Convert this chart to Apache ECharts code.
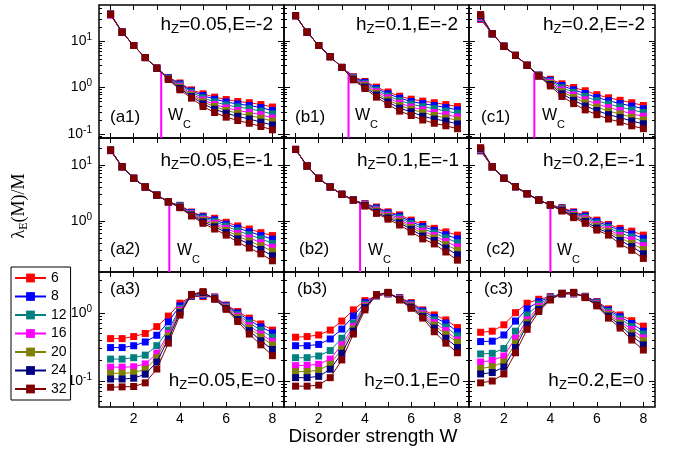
<!DOCTYPE html>
<html><head><meta charset="utf-8">
<script src="https://cdn.jsdelivr.net/npm/echarts@6/dist/echarts.min.js"></script>
<style>html,body{margin:0;padding:0;background:#fff}#c{width:683px;height:454px}</style>
</head><body><div id="c"></div>
<script>
// ---------------- data ----------------
const W = [1,1.5,2,2.5,3,3.5,4,4.5,5,5.5,6,6.5,7,7.5,8];
const sizes = ['6','8','12','16','20','24','32'];
const colors = ['#ff0000','#0000ff','#008080','#ff00ff','#808000','#000080','#800000'];
const xTickVals = [1,2,3,4,5,6,7,8];
const xLabelVals = [2,4,6,8];

// rows of each panel: series 6,8,12,16,20,24,32
const a1 = [
 [38,15.5,8.0,4.4,2.6,1.65,1.25,0.89,0.73,0.62,0.55,0.50,0.47,0.43,0.38],
 [37,15.5,8.0,4.4,2.6,1.63,1.19,0.84,0.67,0.56,0.49,0.44,0.41,0.37,0.32],
 [37,15.5,8.0,4.4,2.6,1.60,1.13,0.79,0.60,0.49,0.42,0.38,0.35,0.31,0.27],
 [36,15.5,8.0,4.4,2.6,1.57,1.06,0.73,0.54,0.43,0.365,0.32,0.29,0.26,0.22],
 [38,15.5,8.0,4.4,2.6,1.55,1.01,0.69,0.49,0.39,0.32,0.28,0.25,0.22,0.19],
 [38,15.5,8.0,4.4,2.6,1.52,0.955,0.64,0.445,0.34,0.28,0.24,0.21,0.18,0.156],
 [37,15.5,8.0,4.4,2.6,1.49,0.89,0.59,0.39,0.29,0.23,0.195,0.17,0.145,0.123]];
const b1 = [
 [35,15.5,8.0,4.6,2.7,1.70,1.35,1.02,0.80,0.65,0.56,0.51,0.47,0.43,0.39],
 [35,15.5,8.0,4.6,2.7,1.66,1.29,0.95,0.73,0.59,0.50,0.45,0.41,0.37,0.33],
 [35,15.5,8.0,4.6,2.7,1.62,1.21,0.88,0.66,0.52,0.44,0.385,0.35,0.31,0.28],
 [35,15.5,8.0,4.6,2.7,1.58,1.15,0.81,0.60,0.46,0.38,0.33,0.29,0.26,0.23],
 [35,15.5,8.0,4.6,2.7,1.55,1.09,0.75,0.54,0.41,0.34,0.29,0.25,0.22,0.20],
 [35,15.5,8.0,4.6,2.7,1.51,1.02,0.69,0.49,0.36,0.30,0.24,0.21,0.19,0.164],
 [35,15.5,8.0,4.6,2.7,1.46,0.95,0.62,0.43,0.31,0.25,0.20,0.17,0.15,0.13]];
const c1 = [
 [29,14.3,7.7,4.9,3.0,1.85,1.50,1.20,1.00,0.85,0.70,0.60,0.53,0.47,0.41],
 [30,14.3,7.7,4.9,3.0,1.84,1.43,1.10,0.89,0.74,0.61,0.52,0.45,0.40,0.35],
 [31,14.3,7.7,4.9,3.0,1.83,1.36,0.99,0.79,0.64,0.52,0.44,0.38,0.33,0.29],
 [32,14.3,7.7,4.9,3.0,1.81,1.29,0.89,0.69,0.54,0.44,0.37,0.32,0.27,0.24],
 [34,14.3,7.7,4.9,3.0,1.80,1.22,0.81,0.61,0.47,0.38,0.31,0.27,0.23,0.20],
 [35,14.3,7.7,4.9,3.0,1.77,1.16,0.73,0.53,0.40,0.32,0.26,0.225,0.19,0.166],
 [37,14.3,7.7,4.9,3.0,1.75,1.08,0.64,0.45,0.33,0.26,0.21,0.18,0.15,0.13]];
const a2 = [
 [18.0,9.3,5.8,4.05,2.9,2.2,1.91,1.45,1.23,1.12,0.95,0.82,0.72,0.62,0.55],
 [18.5,9.3,5.8,4.05,2.9,2.2,1.88,1.42,1.19,1.05,0.88,0.75,0.645,0.55,0.475],
 [18.5,9.3,5.8,4.05,2.9,2.2,1.86,1.38,1.13,0.98,0.81,0.67,0.57,0.48,0.40],
 [18.5,9.3,5.8,4.05,2.9,2.2,1.82,1.35,1.07,0.91,0.74,0.60,0.50,0.41,0.34],
 [18.8,9.3,5.8,4.05,2.9,2.2,1.80,1.31,1.03,0.85,0.68,0.54,0.44,0.36,0.29],
 [18.5,9.3,5.8,4.05,2.9,2.2,1.77,1.28,0.97,0.79,0.625,0.48,0.39,0.31,0.24],
 [18.5,9.3,5.8,4.05,2.9,2.2,1.73,1.23,0.91,0.72,0.56,0.42,0.33,0.26,0.195]];
const b2 = [
 [19,9.6,5.8,4.05,3.0,2.37,2.04,1.78,1.46,1.29,1.04,0.87,0.74,0.64,0.56],
 [19,9.6,5.8,4.05,3.0,2.37,2.01,1.71,1.40,1.22,0.97,0.80,0.68,0.57,0.48],
 [19,9.6,5.8,4.05,3.0,2.37,1.98,1.64,1.33,1.14,0.90,0.73,0.61,0.50,0.41],
 [19,9.6,5.8,4.05,3.0,2.37,1.96,1.57,1.27,1.06,0.83,0.66,0.55,0.43,0.345],
 [19,9.6,5.8,4.05,3.0,2.37,1.93,1.51,1.21,0.995,0.77,0.60,0.50,0.38,0.30],
 [19,9.6,5.8,4.05,3.0,2.37,1.89,1.44,1.14,0.93,0.71,0.54,0.45,0.33,0.25],
 [19,9.6,5.8,4.05,3.0,2.37,1.85,1.37,1.08,0.85,0.64,0.48,0.39,0.28,0.20]];
const c2 = [
 [17.8,9.3,5.8,4.1,3.07,2.37,1.93,1.74,1.46,1.29,1.04,0.87,0.74,0.66,0.56],
 [18.2,9.3,5.8,4.1,3.07,2.37,1.93,1.70,1.41,1.23,0.98,0.82,0.68,0.59,0.49],
 [18.6,9.3,5.8,4.1,3.07,2.37,1.93,1.67,1.36,1.16,0.92,0.76,0.61,0.52,0.42],
 [19.0,9.3,5.8,4.1,3.07,2.37,1.93,1.62,1.31,1.10,0.86,0.71,0.55,0.46,0.36],
 [19.4,9.3,5.8,4.1,3.07,2.37,1.93,1.59,1.26,1.04,0.81,0.66,0.50,0.40,0.31],
 [19.8,9.3,5.8,4.1,3.07,2.37,1.93,1.56,1.21,0.98,0.75,0.61,0.45,0.35,0.26],
 [20.4,9.3,5.8,4.1,3.07,2.37,1.93,1.51,1.15,0.91,0.69,0.56,0.39,0.30,0.215]];
const a3 = [
 [0.42,0.42,0.45,0.50,0.63,0.90,1.39,1.75,1.74,1.72,1.31,1.05,0.84,0.69,0.56],
 [0.31,0.31,0.33,0.375,0.47,0.74,1.27,1.77,1.80,1.70,1.28,1.00,0.78,0.625,0.51],
 [0.21,0.21,0.22,0.24,0.33,0.56,1.17,1.79,1.86,1.68,1.25,0.95,0.71,0.56,0.44],
 [0.16,0.16,0.162,0.178,0.255,0.50,1.11,1.81,1.91,1.66,1.22,0.90,0.65,0.49,0.38],
 [0.13,0.13,0.133,0.149,0.22,0.46,1.05,1.83,1.96,1.64,1.19,0.85,0.60,0.445,0.34],
 [0.107,0.107,0.11,0.126,0.19,0.415,1.01,1.85,2.00,1.62,1.16,0.80,0.55,0.39,0.29],
 [0.081,0.082,0.083,0.094,0.15,0.36,0.93,1.87,2.06,1.59,1.13,0.75,0.49,0.34,0.236]];
const b3 = [
 [0.44,0.45,0.475,0.56,0.76,1.11,1.52,1.78,1.90,1.68,1.42,1.11,0.935,0.79,0.61],
 [0.33,0.33,0.345,0.415,0.58,0.90,1.42,1.79,1.92,1.66,1.38,1.07,0.86,0.71,0.53],
 [0.22,0.22,0.233,0.28,0.425,0.70,1.34,1.80,1.94,1.64,1.34,1.02,0.79,0.62,0.46],
 [0.168,0.17,0.176,0.21,0.34,0.63,1.28,1.81,1.96,1.62,1.30,0.97,0.72,0.55,0.40],
 [0.137,0.138,0.144,0.176,0.295,0.58,1.24,1.83,1.97,1.60,1.26,0.93,0.66,0.485,0.37],
 [0.112,0.112,0.117,0.149,0.255,0.54,1.20,1.84,1.99,1.58,1.22,0.89,0.60,0.425,0.31],
 [0.084,0.084,0.087,0.112,0.204,0.49,1.11,1.86,2.01,1.55,1.17,0.84,0.53,0.36,0.26]];
const c3 = [
 [0.52,0.54,0.67,1.01,1.39,1.59,1.74,1.90,1.90,1.76,1.47,1.15,0.935,0.77,0.64],
 [0.38,0.385,0.475,0.76,1.15,1.47,1.71,1.91,1.92,1.75,1.44,1.10,0.88,0.70,0.54],
 [0.25,0.255,0.30,0.54,0.935,1.34,1.68,1.92,1.94,1.73,1.41,1.05,0.82,0.63,0.49],
 [0.19,0.20,0.233,0.425,0.79,1.24,1.65,1.93,1.96,1.72,1.37,0.99,0.76,0.57,0.43],
 [0.153,0.162,0.19,0.36,0.72,1.17,1.62,1.93,1.98,1.71,1.34,0.95,0.71,0.51,0.39],
 [0.127,0.133,0.16,0.31,0.67,1.13,1.59,1.94,2.00,1.70,1.31,0.90,0.66,0.46,0.34],
 [0.094,0.10,0.127,0.26,0.575,1.05,1.55,1.95,2.01,1.68,1.27,0.84,0.60,0.40,0.285]];

// critical disorder lines (rows 1 and 2)
const wcW   = [[3.19,3.29,3.31],[3.54,3.79,4.0]];
const wcTop = [[2.2,2.2,2.07],[2.12,2.04,1.93]];
const hzVals = ['0.05','0.1','0.2'];
const eVals = ['-2','-1','0'];
const yMin = [0.082,0.123,0.0415];
const yMax = [59.4,30.4,4.0];

// ---------------- layout ----------------
const FONT = '"Liberation Sans", Arial, sans-serif';
const colLeft = [99,284,469], colW = [185,185,186];
const rowTop = [5,138,272], rowH = [133,134,135];
const annoX = [[273,458,645],[273,459,645],[275,460,644]], annoY = [25,161,381];
const tagX = [[110,295,481],[110,299,486],[110,297,484]], tagY = [117,249,289];
const wcLabX = [[168,355,542],[177,368,557]], wcLabY = [116,251];

const panels = [[a1,b1,c1],[a2,b2,c2],[a3,b3,c3]];
const grids=[], xAxes=[], yAxes=[], series=[], graphics=[];

function decadeVals(r){
  const out=[]; for(let e=-3;e<=3;e++){const v=Math.pow(10,e); if(v>=yMin[r]&&v<=yMax[r]) out.push(v);} return out;
}
function minorVals(r){
  const out=[]; for(let e=-3;e<=3;e++){for(let k=2;k<=9;k++){const v=k*Math.pow(10,e); if(v>=yMin[r]&&v<=yMax[r]) out.push(+v.toPrecision(3));}} return out;
}
function mkY(gi,r,pos,vals,len,labels){
  return {gridIndex:gi,type:'log',logBase:10,min:yMin[r],max:yMax[r],position:pos,
    axisLine:{show:false},splitLine:{show:false},minorTick:{show:false},
    axisTick:{show:true,inside:true,length:len,customValues:vals,lineStyle:{color:'#000',width:1}},
    axisLabel:{show:labels,customValues:decadeVals(r),margin:7,
      formatter:v=>'{b|10}{s|'+Math.round(Math.log10(v))+'}',
      rich:{b:{fontSize:14,fontFamily:FONT,color:'#000',lineHeight:18},
            s:{fontSize:10,fontFamily:FONT,color:'#000',verticalAlign:'top',lineHeight:10}}}};
}
function mkX(gi,pos,labels){
  return {gridIndex:gi,type:'value',position:pos,min:0.5,max:8.5,
    axisLine:{show:false},splitLine:{show:false},
    axisTick:{show:true,inside:true,length:5,customValues:xTickVals,lineStyle:{color:'#000',width:1}},
    axisLabel:{show:labels,customValues:xLabelVals,fontSize:14,fontFamily:FONT,color:'#000',margin:5}};
}

for(let r=0;r<3;r++){
  for(let c=0;c<3;c++){
    const gi=grids.length;
    grids.push({left:colLeft[c],top:rowTop[r],width:colW[c],height:rowH[r],show:true,
      borderColor:'#000',borderWidth:1.5,backgroundColor:'rgba(0,0,0,0)'});
    const xb=xAxes.length;
    xAxes.push(mkX(gi,'bottom',r===2));
    xAxes.push(mkX(gi,'top',false));
    const yb=yAxes.length;
    yAxes.push(mkY(gi,r,'left',decadeVals(r),6,c===0));
    yAxes.push(mkY(gi,r,'left',minorVals(r),3,false));
    yAxes.push(mkY(gi,r,'right',decadeVals(r),6,false));
    yAxes.push(mkY(gi,r,'right',minorVals(r),3,false));
    if(r<2){
      series.push({type:'line',name:'Wc',xAxisIndex:xb,yAxisIndex:yb,z:1,silent:true,
        symbol:'none',lineStyle:{color:'#ff00ff',width:2},
        data:[[wcW[r][c],wcTop[r][c]],[wcW[r][c],yMin[r]]]});
    }
    const P=panels[r][c];
    for(let s=0;s<7;s++){
      series.push({type:'line',name:sizes[s],xAxisIndex:xb,yAxisIndex:yb,z:2+s,
        symbol:'rect',symbolSize:7,showSymbol:true,
        itemStyle:{color:colors[s]},lineStyle:{color:colors[s],width:1},
        data:W.map((w,j)=>[w,P[s][j]])});
    }
    // annotations
    graphics.push({type:'text',x:annoX[r][c],y:annoY[r],z:100,style:{
      text:'{m|h}{s|Z}{m|='+hzVals[c]+',E='+eVals[r]+'}',align:'right',verticalAlign:'middle',
      rich:{m:{fontSize:19,fontFamily:FONT,fill:'#000',lineHeight:22},
            s:{fontSize:13,fontFamily:FONT,fill:'#000',verticalAlign:'bottom',lineHeight:10}}}});
    graphics.push({type:'text',x:tagX[r][c],y:tagY[r],z:100,style:{
      text:'('+'abc'[c]+(r+1)+')',fontSize:17,fontFamily:FONT,fill:'#000',verticalAlign:'middle'}});
    if(r<2){
      graphics.push({type:'text',x:wcLabX[r][c],y:wcLabY[r],z:100,style:{text:'W',fontSize:16,fontFamily:FONT,fill:'#000',verticalAlign:'middle'}});
      graphics.push({type:'text',x:wcLabX[r][c]+15,y:wcLabY[r]+9,z:100,style:{text:'C',fontSize:11,fontFamily:FONT,fill:'#000',verticalAlign:'middle'}});
    }
  }
}
graphics.push({type:'text',x:373,y:437,z:100,style:{text:'Disorder strength W',fontSize:19,fontFamily:FONT,fill:'#000',align:'center',verticalAlign:'middle'}});
graphics.push({type:'text',x:19,y:206,rotation:Math.PI/2,z:100,style:{
  text:'{m|λ}{s|E}{m|(M)/M}',align:'center',verticalAlign:'middle',
  rich:{m:{fontSize:18,fontFamily:'"Liberation Serif", serif',fill:'#000',lineHeight:22},
        s:{fontSize:12,fontFamily:'"Liberation Serif", serif',fill:'#000',verticalAlign:'bottom',lineHeight:10}}}});

const chart = echarts.init(document.getElementById('c'));
chart.setOption({
  animation:false,
  backgroundColor:'#fff',
  grid:grids, xAxis:xAxes, yAxis:yAxes, series:series, graphic:graphics,
  legend:{data:sizes,orient:'vertical',left:11,top:267,itemWidth:31,itemHeight:11,itemGap:4.5,
    padding:[4,4,4,3],borderColor:'#000',borderWidth:1,backgroundColor:'#fff',selectedMode:false,
    textStyle:{fontSize:14,fontFamily:FONT,color:'#000'}}
});
</script></body></html>
